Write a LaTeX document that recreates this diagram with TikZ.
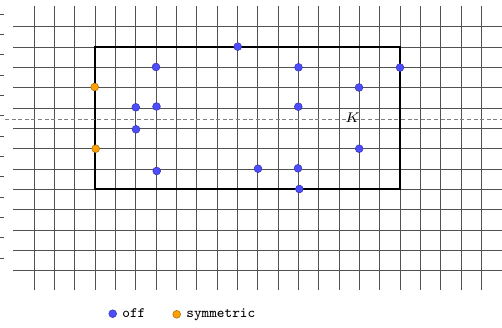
\documentclass[tikz,border=0pt]{standalone}
\definecolor{offblue}{HTML}{4D4DFF}
\definecolor{symorange}{HTML}{FF9F00}
\begin{document}
\begin{tikzpicture}[x=0.5pt,y=-0.5pt,
  gridline/.style={draw=black!68, line width=0.5pt},
  tickline/.style={draw=black!70, line width=0.5pt},
  region/.style={draw=black, line width=0.9pt},
  cutline/.style={draw=black!50, line width=0.5pt, dash pattern=on 2pt off 1.3pt},
  offdot/.style={circle, fill=offblue, draw=offblue!65!black, line width=0.25pt, inner sep=0pt, minimum size=3.9pt},
  symdot/.style={circle, fill=symorange, draw=symorange!65!black, line width=0.25pt, inner sep=0pt, minimum size=3.9pt},
  legendtext/.style={font=\fontsize{7.2}{8}\selectfont\ttfamily, inner sep=0pt, anchor=base west},
  klabel/.style={font=\fontsize{7.3}{9}\selectfont, inner sep=0pt}
]
\useasboundingbox (0,0) rectangle (502,327);
% grid
\foreach \k in {0,...,22} {
  \draw[gridline] ({34+20.333*\k},6) -- ({34+20.333*\k},290);
}
\foreach \k in {0,...,12} {
  \draw[gridline] (13,{26.67+20.333*\k}) -- (502,{26.67+20.333*\k});
  \draw[tickline] (0,{14+20.333*\k}) -- (4,{14+20.333*\k});
}
% region
\draw[region] (95,46.67) rectangle (400,189.33);
% dashed line with label
\coordinate (cutL) at (5,119);
\coordinate (cutR) at (502,119);
\draw[cutline] (cutL) -- (cutR);
\node[klabel] (K) at (352.5,118) {$K$};
% off points
\node[offdot] (p1) at (237.7,46.67) {};
\node[offdot] (p2) at (156,67) {};
\node[offdot] (p3) at (298.5,67.3) {};
\node[offdot] (p4) at (400,67.5) {};
\node[offdot] (p5) at (359,87.5) {};
\node[offdot] (p6) at (135.8,107.3) {};
\node[offdot] (p7) at (156.5,106.5) {};
\node[offdot] (p8) at (298.3,106.7) {};
\node[offdot] (p9) at (136,129.3) {};
\node[offdot] (p10) at (359.2,148.7) {};
\node[offdot] (p11) at (156.7,171) {};
\node[offdot] (p12) at (258,168.7) {};
\node[offdot] (p13) at (298,168.3) {};
\node[offdot] (p14) at (299.3,189) {};
% symmetric points
\node[symdot] (s1) at (94.7,87) {};
\node[symdot] (s2) at (95.7,148.7) {};
% legend
\node[offdot] (lgoff) at (112.7,313.7) {};
\node[legendtext] (lgofftext) at (122,317) {off};
\node[symdot] (lgsym) at (176.7,314.3) {};
\node[legendtext] (lgsymtext) at (186,317) {symmetric};
\end{tikzpicture}
\end{document}
